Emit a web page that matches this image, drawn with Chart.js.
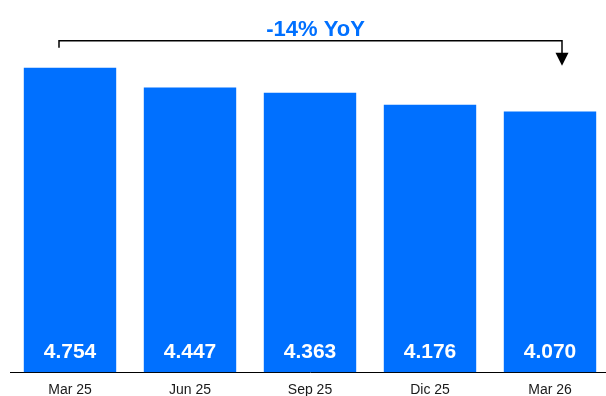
<!DOCTYPE html>
<html>
<head>
<meta charset="utf-8">
<script src="https://cdn.jsdelivr.net/npm/chart.js@4"></script>
<style>
  html, body { margin: 0; padding: 0; background: #fff; overflow: hidden; }
  #wrap { width: 606px; height: 396px; overflow: hidden; }
</style>
</head>
<body>
<div id="wrap"><canvas id="c" width="612" height="414"></canvas></div>
<script>
// data
var quarters = ['Mar 25', 'Jun 25', 'Sep 25', 'Dic 25', 'Mar 26'];
var values = [4.754, 4.447, 4.363, 4.176, 4.070];
var valueLabels = ['4.754', '4.447', '4.363', '4.176', '4.070'];
var changeLabel = '-14% YoY';

var blue = '#0070FF';

// white numbers near the bottom of every bar
var barLabels = {
    id: 'barLabels',
    afterDatasetsDraw: function(chart) {
        var ctx = chart.ctx;
        var meta = chart.getDatasetMeta(0);
        var yScale = chart.scales.y;
        ctx.save();
        ctx.fillStyle = '#fff';
        ctx.font = 'bold 21px "Liberation Sans", Arial, sans-serif';
        ctx.textAlign = 'center';
        ctx.textBaseline = 'middle';
        meta.data.forEach(function(bar, i) {
            ctx.fillText(valueLabels[i], bar.x, yScale.getPixelForValue(0) - 20);
        });
        ctx.restore();
    }
};

// bracket with arrow from first to last bar
var yoyBracket = {
    id: 'yoyBracket',
    afterDraw: function(chart) {
        var ctx = chart.ctx;
        var x = chart.scales.x, y = chart.scales.y;
        var xl = x.getPixelForValue(0) - 11;
        var xr = x.getPixelForValue(values.length - 1) + 12;
        var top = y.getPixelForValue(Math.max.apply(null, values));
        var ly = top - 27;
        ctx.save();
        ctx.strokeStyle = '#000';
        ctx.lineWidth = 1.5;
        ctx.beginPath();
        ctx.moveTo(xl, ly + 7);
        ctx.lineTo(xl, ly);
        ctx.lineTo(xr, ly);
        ctx.lineTo(xr, ly + 13);
        ctx.stroke();
        ctx.fillStyle = '#000';
        ctx.beginPath();
        ctx.moveTo(xr - 6.5, ly + 12);
        ctx.lineTo(xr + 6.5, ly + 12);
        ctx.lineTo(xr, ly + 25);
        ctx.closePath();
        ctx.fill();
        ctx.fillStyle = blue;
        ctx.font = 'bold 22px "Liberation Sans", Arial, sans-serif';
        ctx.textAlign = 'center';
        ctx.textBaseline = 'middle';
        ctx.fillText(changeLabel, (xl + xr) / 2 + 5, ly - 11);
        ctx.restore();
    }
};

new Chart(document.getElementById('c'), {
    type: 'bar',
    data: {
        labels: quarters,
        datasets: [{
            data: values,
            backgroundColor: blue,
            borderWidth: 0,
            categoryPercentage: 1,
            barPercentage: 0.77
        }]
    },
    options: {
        responsive: false,
        animation: false,
        layout: { padding: { left: 10, right: 2, top: 20, bottom: 5 } },
        plugins: {
            legend: { display: false },
            tooltip: { enabled: false }
        },
        scales: {
            x: {
                grid: { display: false, drawTicks: false },
                border: { display: true, color: '#000', width: 1 },
                ticks: {
                    color: '#1a1a1a',
                    padding: 10,
                    font: { family: '"Liberation Sans", Arial, sans-serif', size: 14 }
                }
            },
            y: {
                display: false,
                min: 0,
                max: 5.5
            }
        }
    },
    plugins: [barLabels, yoyBracket]
});
</script>
</body>
</html>
